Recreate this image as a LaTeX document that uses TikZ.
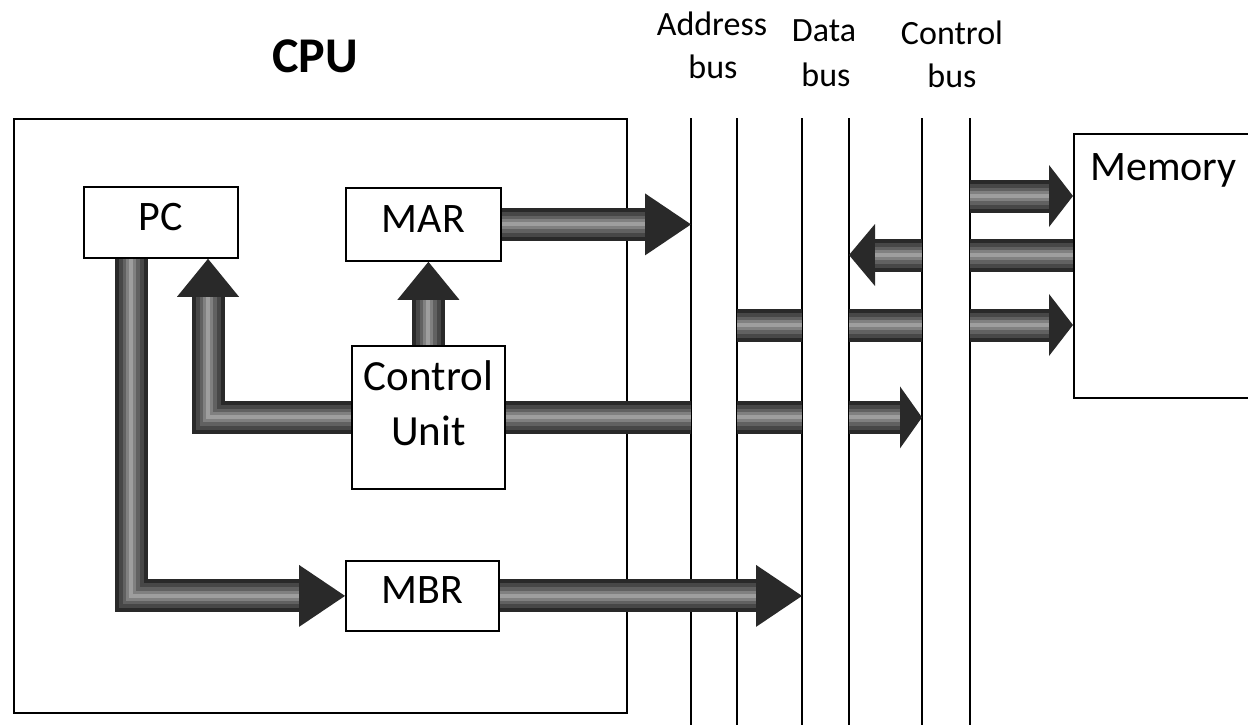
\documentclass[tikz,border=0pt]{standalone}
\usepackage{fontspec}
\setmainfont{Carlito}
\usetikzlibrary{arrows.meta,calc}
\begin{document}
\begin{tikzpicture}[x=1pt,y=-1pt,
  box/.style={draw, line width=1.8pt, fill=white, inner sep=0pt, anchor=north west,
    text height=28pt, text depth=12pt, font=\fontsize{42}{50}\selectfont},
  busline/.style={line width=2.2pt},
  lbl/.style={font=\fontsize{34}{40}\selectfont, anchor=base, inner sep=0pt},
  barcore/.style={
    postaction={draw=black!72, line width=25pt, arrows=-, shorten >=#1},
    postaction={draw=black!62, line width=17pt, arrows=-, shorten >=#1},
    postaction={draw=black!50, line width=10pt, arrows=-, shorten >=#1},
    postaction={draw=black!38, line width=4pt, arrows=-, shorten >=#1}},
  fatbar/.style={draw=black!84, line width=33pt, line join=miter, barcore=0pt},
  fatarrow/.style={draw=black!84, line width=33pt, line join=miter,
    -{Triangle[length=#1, width=62pt, line width=0pt]}, barcore=#1}]
\clip (0,0) rectangle (1248,725);

% CPU frame and its registers
\node[box, minimum width=613pt, minimum height=594pt] (cpu) at (13,118) {};
\node[font=\fontsize{50}{60}\selectfont\bfseries, anchor=base, inner sep=0pt] (cpulbl) at (315,73) {CPU};
\node[box, minimum width=154pt, minimum height=71pt] (pc) at (83,186) {PC};
\node[box, minimum width=155pt, minimum height=73pt] (mar) at (345,187) {MAR};
\node[box, minimum width=153pt, minimum height=143pt] (cu) at (351,345) {};
\node[align=center, inner sep=0pt, font=\fontsize{43}{55}\selectfont] (cutxt)
  at ([yshift=14pt]cu.center) {Control\\Unit};
\node[box, minimum width=153pt, minimum height=70pt] (mbr) at (345,560) {MBR};

% Memory block
\node[draw, line width=1.8pt, inner sep=0pt, anchor=north west,
  minimum width=200pt, minimum height=264pt] (mem) at (1073,133) {};
\node[font=\fontsize{42}{50}\selectfont, anchor=base west, inner sep=0pt] (memlbl)
  at ([xshift=17pt,yshift=-47pt]mem.north west) {Memory};

% System buses
\foreach \n/\x in {a1/691,a2/737,d1/802,d2/849,c1/922,c2/970}{
  \coordinate (\n) at (\x,118);
  \draw[busline] (\n) -- ++(0,620);
}
\node[lbl] (addr) at (712,36) {Address};
\node[lbl] (addrb) at (713,79) {bus};
\node[lbl] (data) at (824,42) {Data};
\node[lbl] (datab) at (826,86) {bus};
\node[lbl] (ctrl) at (952,45) {Control};
\node[lbl] (ctrlb) at (952,88) {bus};

% Data paths inside the CPU
\draw[fatarrow=46pt] ([xshift=48pt]pc.south west) |- (mbr.west);
\draw[fatarrow=38pt] (cu.west) -| ([xshift=125pt]pc.south west);
\draw[fatarrow=38pt] (cu.north) -- (cu.north |- mar.south);
\draw[fatarrow=46pt] (mar.east) -- (mar.east -| a1);
\draw[fatarrow=46pt] (mbr.east) -- (mbr.east -| d1);

% Control unit to control bus (passing under address and data buses)
\draw[fatbar] (cu.east) -- (cu.east -| a1);
\draw[fatbar] (cu.east -| a2) -- (cu.east -| d1);
\draw[fatarrow=22pt] (cu.east -| d2) -- (cu.east -| c1);

% Links between buses and memory
\coordinate (m1) at ([yshift=-63pt]mem.north west);
\coordinate (m2) at ([yshift=-122pt]mem.north west);
\coordinate (m3) at ([yshift=-192pt]mem.north west);
\draw[fatarrow=24pt] (m1 -| c2) -- (m1);
\draw[fatbar] (m2) -- (m2 -| c2);
\draw[fatarrow=26pt] (m2 -| c1) -- (m2 -| d2);
\draw[fatbar] (m3 -| a2) -- (m3 -| d1);
\draw[fatbar] (m3 -| d2) -- (m3 -| c1);
\draw[fatarrow=24pt] (m3 -| c2) -- (m3);
\end{tikzpicture}
\end{document}
